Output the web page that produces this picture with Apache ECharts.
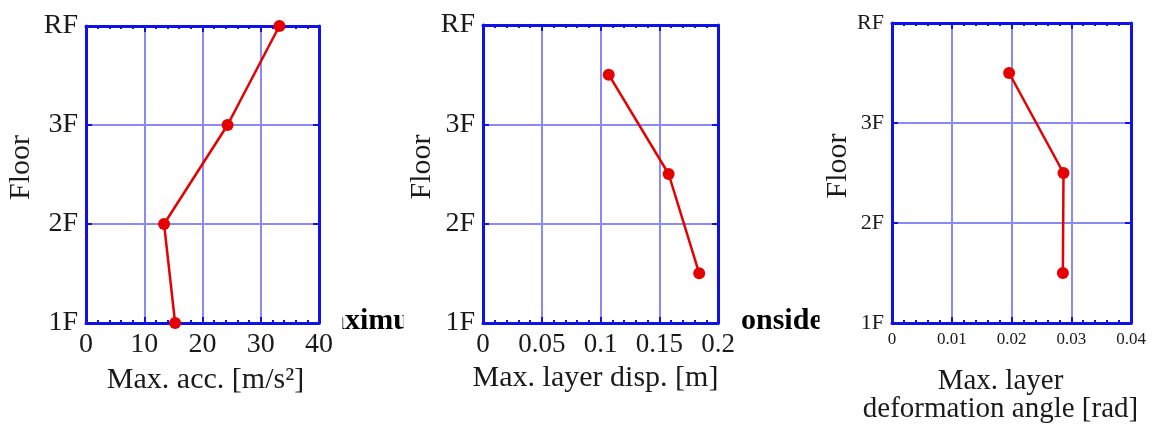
<!DOCTYPE html>
<html>
<head>
<meta charset="utf-8">
<script src="https://cdn.jsdelivr.net/npm/echarts@6/dist/echarts.min.js"></script>
<style>
html,body{margin:0;padding:0;background:#fff;}
#c{width:1160px;height:427px;}
</style>
</head>
<body>
<div id="c"></div>
<script>
// ---- data ----
const floorLabels = ['1F', '2F', '3F', 'RF'];
const floorTicks = [1, 2, 3, 4];

const accFloor = [1, 2, 3, 4];
const accValues = [15.3, 13.4, 24.3, 33.2];

const dispFloor = [1.5, 2.5, 3.5];
const dispValues = [0.184, 0.158, 0.107];

const angleFloor = [1.5, 2.5, 3.5];
const angleValues = [0.0286, 0.0287, 0.0196];

const xTicks1 = [0, 10, 20, 30, 40];
const xTicks2 = [0, 0.05, 0.1, 0.15, 0.2];
const xTicks3 = [0, 0.01, 0.02, 0.03, 0.04];

const xNames = ['Max. acc. [m/s\u00B2]', 'Max. layer disp. [m]', 'Max. layer\ndeformation angle [rad]'];
const yName = 'Floor';
const captionBits = ['aximum', 'onside'];

// ---- style ----
const FRAME = '#1010e8';
const GRIDC = '#8a8af2';
const RED = '#e60000';
const TXT = '#1a1a1a';
const FONT = 'Liberation Serif';

const grids = [
  {left: 86, top: 26, width: 233, height: 297},
  {left: 483, top: 25, width: 235, height: 298},
  {left: 892, top: 23, width: 239, height: 300}
];
const xTickSets = [xTicks1, xTicks2, xTicks3];
const xLabelSize = [28, 27, 17];
const yLabelSize = [28, 28, 22];
const xNameSize = [30, 30, 29];
const xNameGap = [43, 41, 44];
const xNamePad = [[0, 0, 0, 6], [0, 10, 0, 0], [0, 22, 0, 0]];
const yNameGap = [50, 45, 38];

function zip(xs, ys) { return xs.map((x, i) => [x, ys[i]]); }

const tickStyle = {color: FRAME, width: 2};
const frameLine = {show: true, onZero: false, lineStyle: {color: FRAME, width: 3}};
const xAxis = [], yAxis = [];
grids.forEach((g, i) => {
  const t = xTickSets[i];
  const interval = t[1] - t[0];
  xAxis.push({
    gridIndex: i, type: 'value', position: 'bottom',
    min: t[0], max: t[t.length - 1], interval: interval,
    axisLine: frameLine,
    axisTick: {show: true, inside: true, length: 6, lineStyle: tickStyle},
    minorTick: {show: true, splitNumber: 5, length: 3, lineStyle: tickStyle},
    splitLine: {show: true, showMinLine: false, showMaxLine: false, lineStyle: {color: GRIDC, width: 2}},
    axisLabel: {show: true, margin: 8, color: TXT, fontFamily: FONT, fontSize: xLabelSize[i],
      formatter: v => String(parseFloat(v.toFixed(4)))},
    name: xNames[i], nameLocation: 'middle', nameGap: xNameGap[i],
    nameTextStyle: {color: TXT, fontFamily: FONT, fontSize: xNameSize[i], lineHeight: 28, padding: xNamePad[i]},
    z: 3
  });
  yAxis.push({
    gridIndex: i, type: 'value', position: 'left',
    min: floorTicks[0], max: floorTicks[floorTicks.length - 1], interval: 1,
    axisLine: frameLine,
    axisTick: {show: true, inside: true, length: 6, lineStyle: tickStyle},
    splitLine: {show: true, showMinLine: false, showMaxLine: false, lineStyle: {color: GRIDC, width: 2}},
    axisLabel: {show: true, margin: 8, color: TXT, fontFamily: FONT, fontSize: yLabelSize[i],
      formatter: v => floorLabels[floorTicks.indexOf(v)]},
    name: yName, nameLocation: 'middle', nameRotate: 90, nameGap: yNameGap[i],
    nameTextStyle: {color: TXT, fontFamily: FONT, fontSize: 30, padding: [0, 0, 0, 14]},
    z: 3
  });
});
grids.forEach((g, i) => {
  const t = xTickSets[i];
  xAxis.push({
    gridIndex: i, type: 'value', position: 'top',
    min: t[0], max: t[t.length - 1], interval: t[1] - t[0],
    axisLine: frameLine,
    axisTick: {show: true, inside: true, length: 6, lineStyle: tickStyle},
    minorTick: {show: true, splitNumber: 5, length: 3, lineStyle: tickStyle},
    splitLine: {show: false}, axisLabel: {show: false}, z: 3
  });
  yAxis.push({
    gridIndex: i, type: 'value', position: 'right',
    min: floorTicks[0], max: floorTicks[floorTicks.length - 1], interval: 1,
    axisLine: frameLine,
    axisTick: {show: true, inside: true, length: 6, lineStyle: tickStyle},
    splitLine: {show: false}, axisLabel: {show: false}, z: 3
  });
});

const seriesData = [zip(accValues, accFloor), zip(dispValues, dispFloor), zip(angleValues, angleFloor)];
const series = seriesData.map((d, i) => ({
  type: 'line', xAxisIndex: i, yAxisIndex: i, data: d,
  symbol: 'circle', symbolSize: 12, clip: false,
  lineStyle: {color: RED, width: 2.5},
  itemStyle: {color: RED},
  z: 5
}));

const capStyle = {fill: '#000', font: 'bold 30px "Liberation Serif"', verticalAlign: 'middle', align: 'left'};
const option = {
  animation: false,
  backgroundColor: '#fff',
  grid: grids.map(g => Object.assign({containLabel: false, outerBoundsMode: 'none'}, g)),
  xAxis: xAxis,
  yAxis: yAxis,
  series: series,
  graphic: [
    {type: 'text', z: 0, x: 330, y: 321.5, style: Object.assign({text: captionBits[0]}, capStyle)},
    {type: 'text', z: 0, x: 741, y: 321.5, style: Object.assign({text: captionBits[1]}, capStyle)},
    {type: 'rect', zlevel: 1, z: 100, shape: {x: 322, y: 300, width: 20.5, height: 34}, style: {fill: '#fff'}},
    {type: 'rect', zlevel: 1, z: 100, shape: {x: 403.5, y: 300, width: 34, height: 45}, style: {fill: '#fff'}},
    {type: 'rect', zlevel: 1, z: 100, shape: {x: 819.5, y: 300, width: 30, height: 45}, style: {fill: '#fff'}}
  ]
};

const chart = echarts.init(document.getElementById('c'), null, {renderer: 'canvas'});
chart.setOption(option);
</script>
</body>
</html>
